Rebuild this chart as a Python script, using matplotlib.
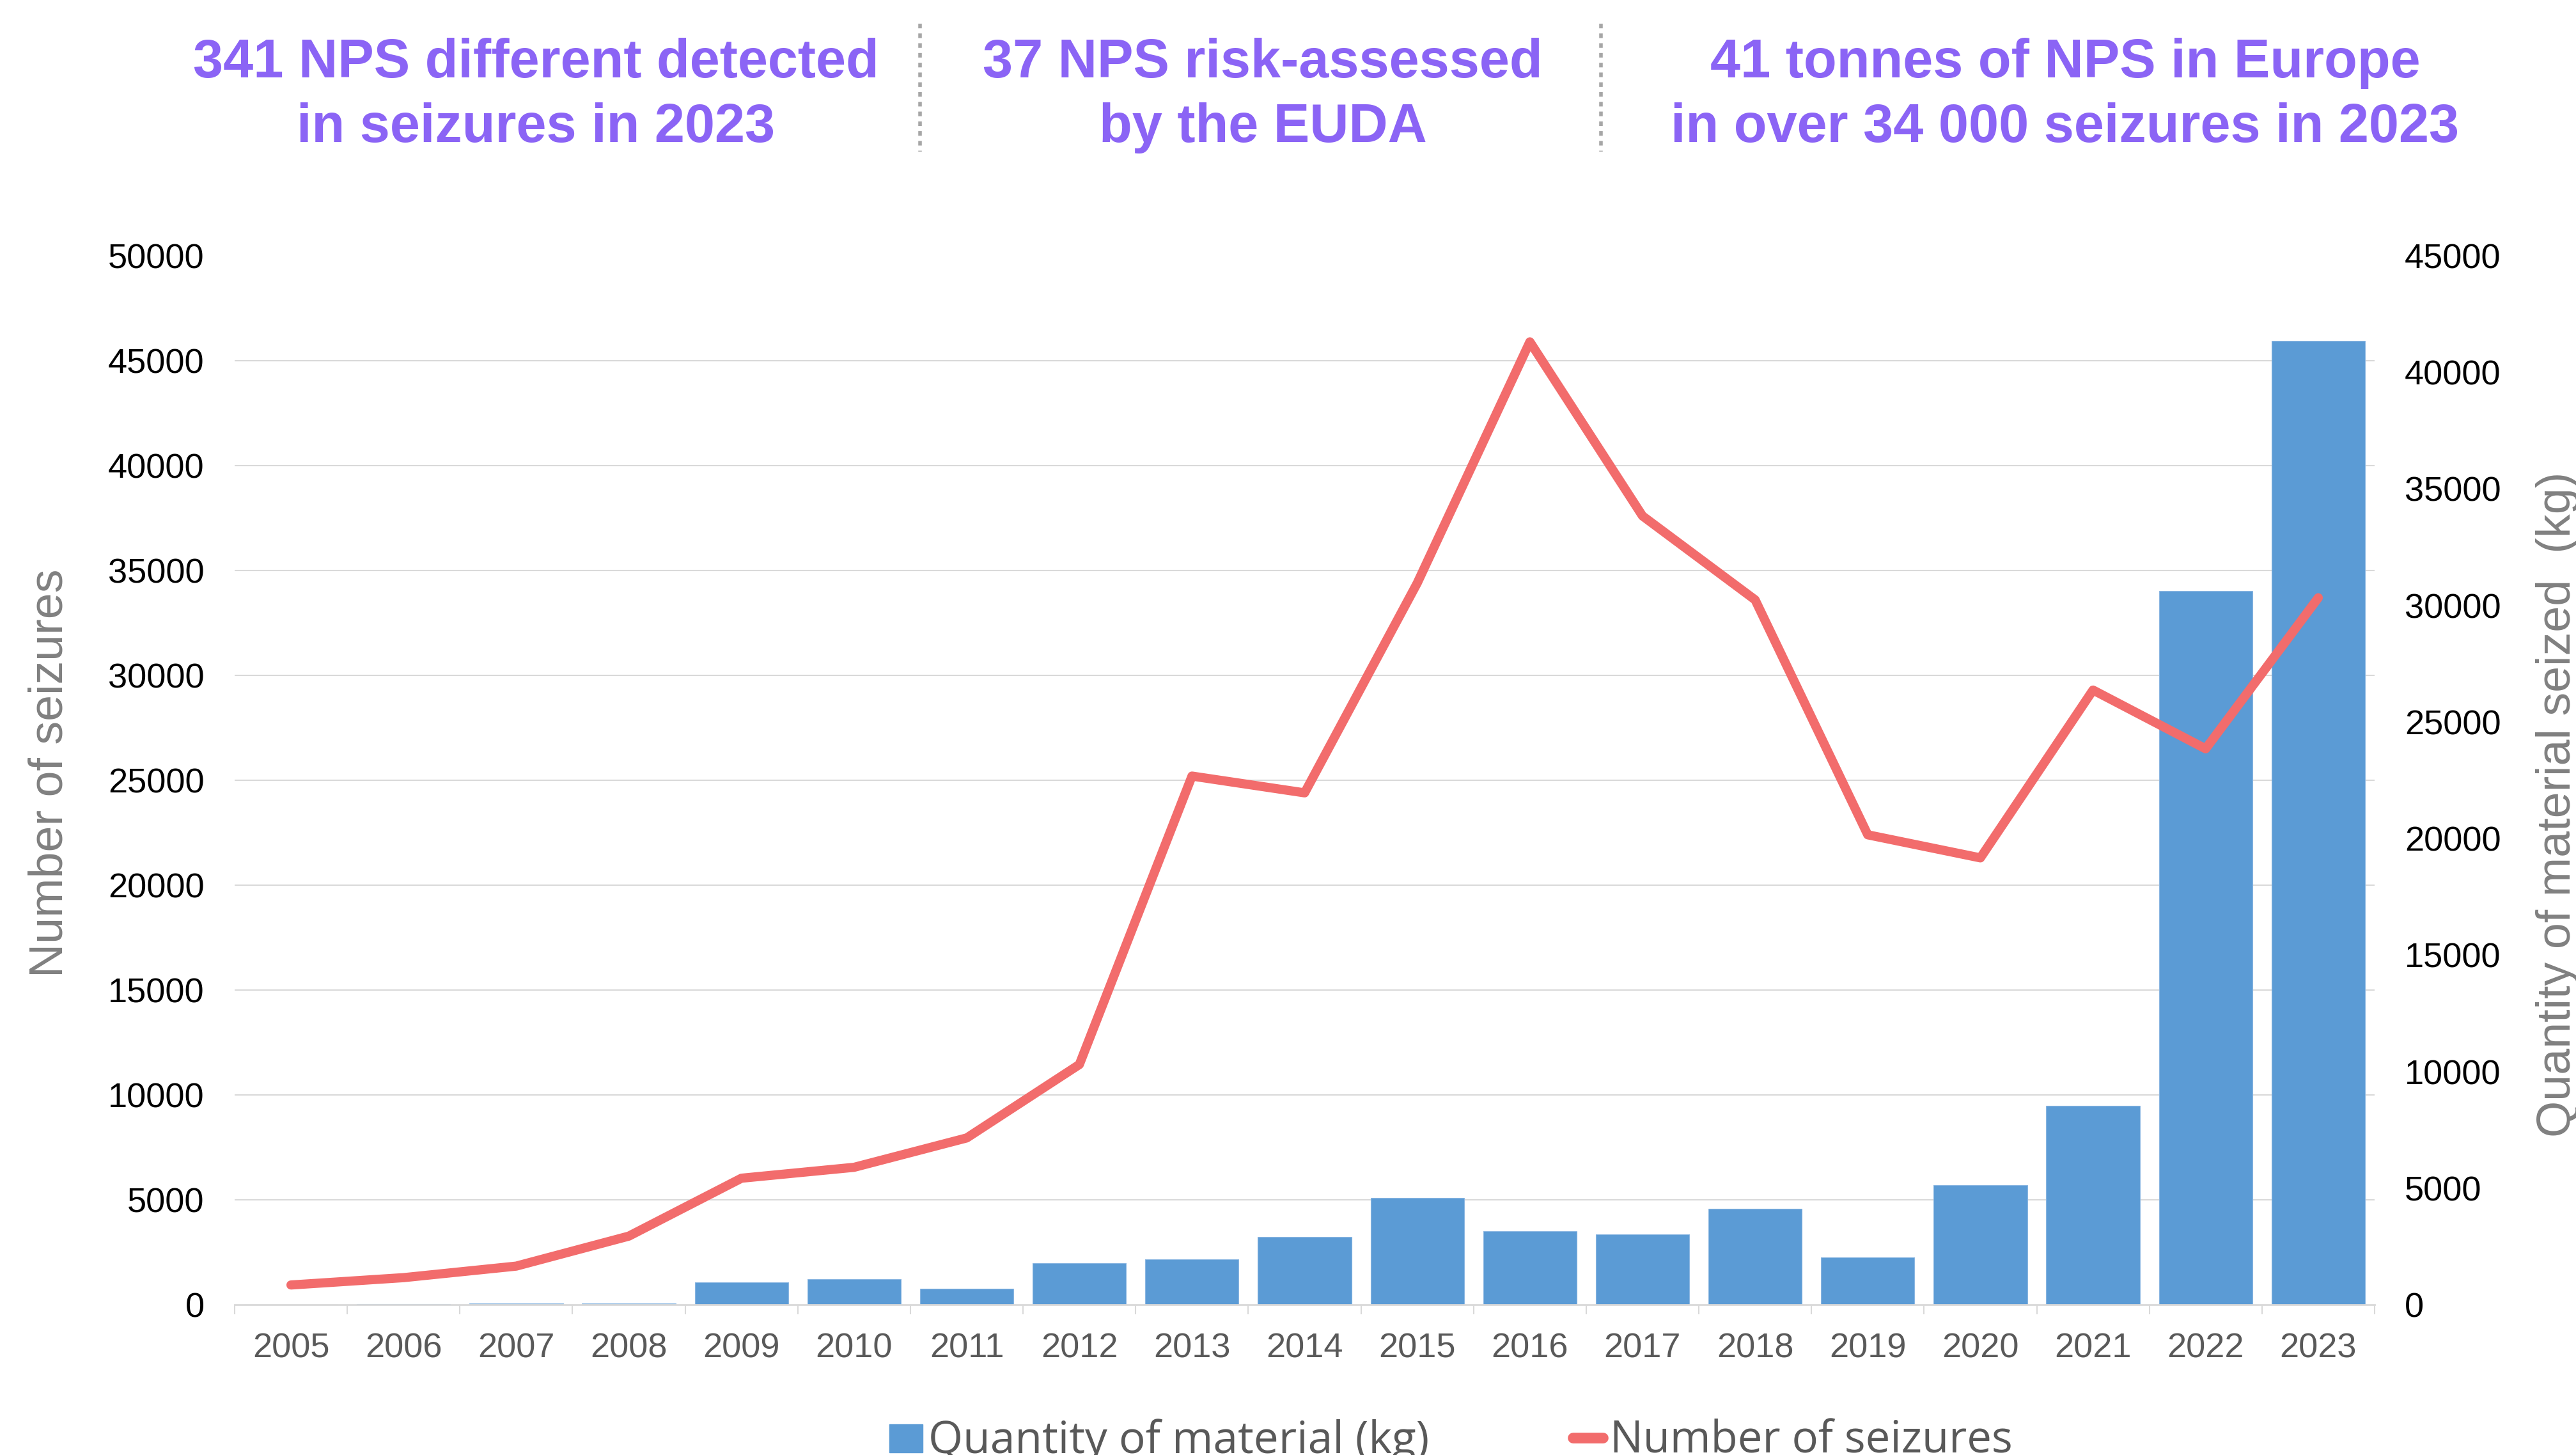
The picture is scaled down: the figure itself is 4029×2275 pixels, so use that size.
import matplotlib
matplotlib.use("Agg")
import matplotlib.pyplot as plt
from matplotlib.lines import Line2D
from matplotlib.patches import Rectangle
import numpy as np

# ---------------- data ----------------
years = [str(y) for y in range(2005, 2024)]
quantity_kg = [0, 20, 60, 60, 950, 1100, 680, 1790, 1940, 2920, 4580,
               3160, 3010, 4120, 2030, 5120, 8520, 30620, 41350]
seizures = [940, 1290, 1840, 3270, 6030, 6550, 7950, 11450, 25200, 24400,
            34400, 45900, 37600, 33600, 22400, 21300, 29300, 26500, 33700]
left_ticks = list(range(0, 50001, 5000))
right_ticks = list(range(0, 45001, 5000))
headline_1 = ["341 NPS different detected", "in seizures in 2023"]
headline_2 = ["37 NPS risk-assessed", "by the EUDA"]
headline_3 = ["41 tonnes of NPS in Europe", "in over 34 000 seizures in 2023"]
legend_labels = ["Quantity of material (kg)", "Number of seizures"]

# ---------------- style ----------------
plt.rcParams["font.family"] = ["Liberation Sans", "DejaVu Sans"]
BAR_C = "#5b9bd5"
LINE_C = "#f26c6c"
GRID_C = "#d9d9d9"
PURPLE = "#8b64f5"
GREY_LABEL = "#808080"
GREY_TICK = "#595959"

W, H, DPI = 4030, 2275, 100
fig = plt.figure(figsize=(W / DPI, H / DPI), dpi=DPI)

L, R, T, B = 367, 3714, 400, 2040
ax = fig.add_axes([L / W, 1 - B / H, (R - L) / W, (B - T) / H])
ax2 = ax.twinx()

x = np.arange(len(years))

# bars (right axis scale)
ax.bar(x, quantity_kg, width=0.83, color=BAR_C, edgecolor="#8cb7e2",
       linewidth=0.8, zorder=2)
ax.set_xlim(-0.5, len(years) - 0.5)
ax.set_ylim(0, 45000)
ax.yaxis.tick_right()
ax.set_yticks(right_ticks)
ax.set_yticklabels([str(t) for t in right_ticks])
# gridlines at the left-axis tick positions, drawn behind the bars
ax.set_yticks([t * 45000 / 50000 for t in left_ticks], minor=True)
ax.grid(which="minor", axis="y", color=GRID_C, lw=1.5, zorder=0)
ax.grid(which="major", axis="y", visible=False)
ax.set_axisbelow(True)
ax.tick_params(axis="y", which="both", length=0)
ax.tick_params(axis="y", which="major", labelsize=39, pad=34, labelcolor="black")
ax.set_xticks(x)
ax.set_xticklabels(years)
ax.set_xticks(np.arange(-0.5, len(years)), minor=True)
ax.tick_params(axis="x", which="major", length=0, pad=31, labelsize=39,
               labelcolor=GREY_TICK)
ax.tick_params(axis="x", which="minor", length=11, width=1.5, color=GRID_C,
               direction="out")
for s in ["top", "left", "right"]:
    ax.spines[s].set_visible(False)
ax.spines["bottom"].set_color(GRID_C)
ax.spines["bottom"].set_linewidth(2)
ax.yaxis.set_label_position("right")
ax.set_ylabel("Quantity of material seized  (kg)", fontsize=53, color=GREY_LABEL)
ax.yaxis.label.set_va("center")
ax.yaxis.set_label_coords(1.0857, 0.477)

# line (left axis scale)
ax2.plot(x, seizures, color=LINE_C, lw=10.3, solid_capstyle="round",
         solid_joinstyle="round", zorder=3)
ax2.set_ylim(0, 50000)
ax2.yaxis.tick_left()
ax2.set_yticks(left_ticks)
ax2.set_yticklabels([str(t) for t in left_ticks])
ax2.tick_params(axis="y", length=0, labelsize=39, pad=34, labelcolor="black")
for s in ax2.spines.values():
    s.set_visible(False)
ax2.yaxis.set_label_position("left")
ax2.set_ylabel("Number of seizures", fontsize=53, color=GREY_LABEL)
ax2.yaxis.label.set_va("center")
ax2.yaxis.set_label_coords(-0.0863, 0.507)

# ---------------- headlines ----------------
for cx, lines in [(838, headline_1), (1975, headline_2), (3230, headline_3)]:
    for by, txt in zip([120.7, 221.7], lines):
        fig.text(cx / W, 1 - by / H, txt, ha="center", va="baseline",
                 fontsize=61, fontweight="bold", color=PURPLE)

for sx in [1439, 2504]:
    fig.add_artist(Line2D([sx / W, sx / W], [1 - 37 / H, 1 - 237 / H],
                          transform=fig.transFigure, color="#a6a6a6",
                          lw=4, linestyle=(0, (1.3, 1.45))))

# ---------------- legend ----------------
base_y = 1 - 2271.7 / H
fig.add_artist(Rectangle((1391 / W, 1 - 2271 / H), 52 / W, 44 / H,
                         transform=fig.transFigure, color=BAR_C))
fig.text(1452 / W, base_y, legend_labels[0], family=["Open Sans", "DejaVu Sans"],
         fontsize=50, color=GREY_TICK, va="baseline", ha="left")
fig.add_artist(Line2D([2460 / W, 2507 / W], [1 - 2248 / H] * 2,
                      transform=fig.transFigure, color=LINE_C, lw=12,
                      solid_capstyle="round"))
fig.text(2518 / W, base_y, legend_labels[1], family=["Open Sans", "DejaVu Sans"],
         fontsize=49.5, color=GREY_TICK, va="baseline", ha="left")

fig.savefig("out.png", dpi=DPI)
